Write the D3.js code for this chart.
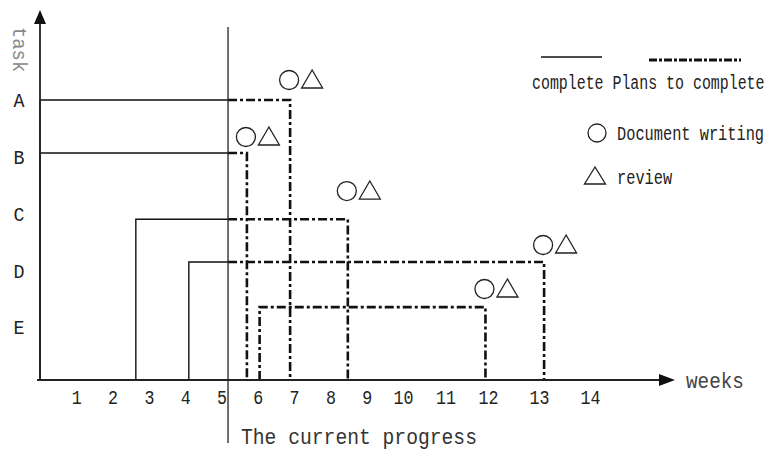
<!DOCTYPE html>
<html>
<head>
<meta charset="utf-8">
<script src="https://cdn.jsdelivr.net/npm/d3@7"></script>
<style>
  body { margin: 0; background: #fff; }
  text { font-family: 'Liberation Mono', 'DejaVu Sans Mono', monospace; }
</style>
</head>
<body>
<div id="chart"></div>
<script>
// data
const tasks = ['A', 'B', 'C', 'D', 'E'];
const lineLevel = [0, 0.934, 2.1, 2.855, 3.65];      // row of each task's line (label rows are 0..4)
const startWeek = [0, 0, 2.64, 4.1, 6.05];
const endWeek = [6.89, 5.7, 8.48, 13.1, 11.94];
const markerLevel = [-0.352, 0.652, 1.604, 2.555, 3.33];
const currentWeek = 5.18;
const weekTicks = d3.range(1, 15);

const width = 773, height = 450;
const axisY = 380, axisX = 40;
const dashDot = '9,3,3,3';

const svg = d3.select('#chart').append('svg')
	.attr('width', width)
	.attr('height', height);

// narrow tall glyphs, like the original's font
function squeeze(sel, perChar) {
	sel.each(function() {
		const t = d3.select(this);
		const k = this.textContent.length * perChar / this.getComputedTextLength();
		const x0 = +t.attr('x') || 0;
		const prior = t.attr('transform') || '';
		t.attr('x', 0)
			.attr('transform', `${prior} translate(${x0},0) scale(${k},1)`);
	});
}

// scales (the hand drawn week axis is uneven)
const x = d3.scaleLinear()
	.domain([0, 10, 12, 14])
	.range([axisX, 403, 488, 590]);
const y = d3.scaleLinear()
	.domain([0, 4])
	.range([100, 327]);

const data = tasks.map((t, i) => ({
	task: t, level: lineLevel[i], start: startWeek[i], end: endWeek[i], mark: markerLevel[i]
}));

// completed parts
svg.append('g')
	.selectAll('path')
	.data(data.filter(d => d.start < currentWeek))
	.enter().append('path')
		.attr('d', d => `M${x(d.start)},${axisY}V${y(d.level)}H${x(Math.min(d.end, currentWeek))}`)
		.attr('fill', 'none')
		.attr('stroke', '#111')
		.attr('stroke-width', 1.4);

// planned parts
svg.append('g')
	.selectAll('path')
	.data(data)
	.enter().append('path')
		.attr('d', d => d.start < currentWeek
			? `M${x(currentWeek)},${y(d.level)}H${x(d.end)}V${axisY}`
			: `M${x(d.start)},${axisY}V${y(d.level)}H${x(d.end)}V${axisY}`)
		.attr('fill', 'none')
		.attr('stroke', '#111')
		.attr('stroke-width', 2.6)
		.attr('stroke-dasharray', dashDot);

// markers: document writing + review
const marks = svg.append('g')
	.selectAll('g')
	.data(data)
	.enter().append('g')
		.attr('transform', d => `translate(${x(d.end)},${y(d.mark)})`);
marks.append('circle')
	.attr('cx', -1)
	.attr('r', 9.5)
	.attr('fill', 'none')
	.attr('stroke', '#222')
	.attr('stroke-width', 1.3);
marks.append('path')
	.attr('d', 'M22,-10L11.5,8H32.5Z')
	.attr('fill', 'none')
	.attr('stroke', '#222')
	.attr('stroke-width', 1.3);

// axes
svg.append('line')
	.attr('x1', 37).attr('x2', 662)
	.attr('y1', axisY).attr('y2', axisY)
	.attr('stroke', '#222').attr('stroke-width', 2);
svg.append('path')
	.attr('d', `M675,${axisY}L659,${axisY - 6}V${axisY + 6}Z`)
	.attr('fill', '#111');
svg.append('line')
	.attr('x1', axisX).attr('x2', axisX)
	.attr('y1', axisY + 1).attr('y2', 20)
	.attr('stroke', '#222').attr('stroke-width', 1.8);
svg.append('path')
	.attr('d', `M${axisX},10L${axisX - 6},24H${axisX + 6}Z`)
	.attr('fill', '#111');

const xAxis = svg.append('g')
	.attr('transform', `translate(0,${axisY})`)
	.call(d3.axisBottom(x).tickValues(weekTicks).tickSize(0).tickPadding(10));
xAxis.select('.domain').remove();
xAxis.selectAll('text')
	.attr('font-family', 'Liberation Mono')
	.attr('font-size', 20)
	.attr('fill', '#222')
	.call(squeeze, 10);

// task labels
svg.append('g')
	.selectAll('text')
	.data(tasks)
	.enter().append('text')
		.attr('x', 19)
		.attr('y', (d, i) => y(i))
		.attr('dy', '0.35em')
		.attr('text-anchor', 'middle')
		.attr('font-size', 21)
		.attr('fill', '#222')
		.text(d => d)
		.call(squeeze, 11);

svg.append('text')
	.attr('transform', 'translate(13,27) rotate(90)')
	.attr('font-size', 21)
	.attr('fill', '#888')
	.text('task')
	.call(squeeze, 11.3);

svg.append('text')
	.attr('x', 686).attr('y', 388)
	.attr('font-size', 22)
	.attr('fill', '#444')
	.text('weeks')
	.call(squeeze, 11.6);

// current progress
svg.append('line')
	.attr('x1', x(currentWeek)).attr('x2', x(currentWeek))
	.attr('y1', 27).attr('y2', 443)
	.attr('stroke', '#222').attr('stroke-width', 1.3);
svg.append('text')
	.attr('x', 241).attr('y', 444)
	.attr('font-size', 22)
	.attr('fill', '#333')
	.text('The current progress')
	.call(squeeze, 11.8);

// legend
const legend = svg.append('g');
legend.append('line')
	.attr('x1', 541).attr('x2', 602).attr('y1', 57).attr('y2', 57)
	.attr('stroke', '#111').attr('stroke-width', 1.4);
legend.append('line')
	.attr('x1', 649).attr('x2', 741).attr('y1', 60).attr('y2', 60)
	.attr('stroke', '#111').attr('stroke-width', 3)
	.attr('stroke-dasharray', '8,2,3,2');
legend.append('text')
	.attr('x', 532).attr('y', 89)
	.attr('font-size', 20)
	.attr('fill', '#222')
	.text('complete Plans to complete')
	.call(squeeze, 8.95);
legend.append('circle')
	.attr('cx', 597).attr('cy', 133).attr('r', 9)
	.attr('fill', 'none').attr('stroke', '#222').attr('stroke-width', 1.3);
legend.append('text')
	.attr('x', 617).attr('y', 140)
	.attr('font-size', 20)
	.attr('fill', '#222')
	.text('Document writing')
	.call(squeeze, 9.2);
legend.append('path')
	.attr('d', 'M595,167L584.5,184H605.5Z')
	.attr('fill', 'none').attr('stroke', '#222').attr('stroke-width', 1.3);
legend.append('text')
	.attr('x', 617).attr('y', 184)
	.attr('font-size', 20)
	.attr('fill', '#222')
	.text('review')
	.call(squeeze, 9.2);
</script>
</body>
</html>
